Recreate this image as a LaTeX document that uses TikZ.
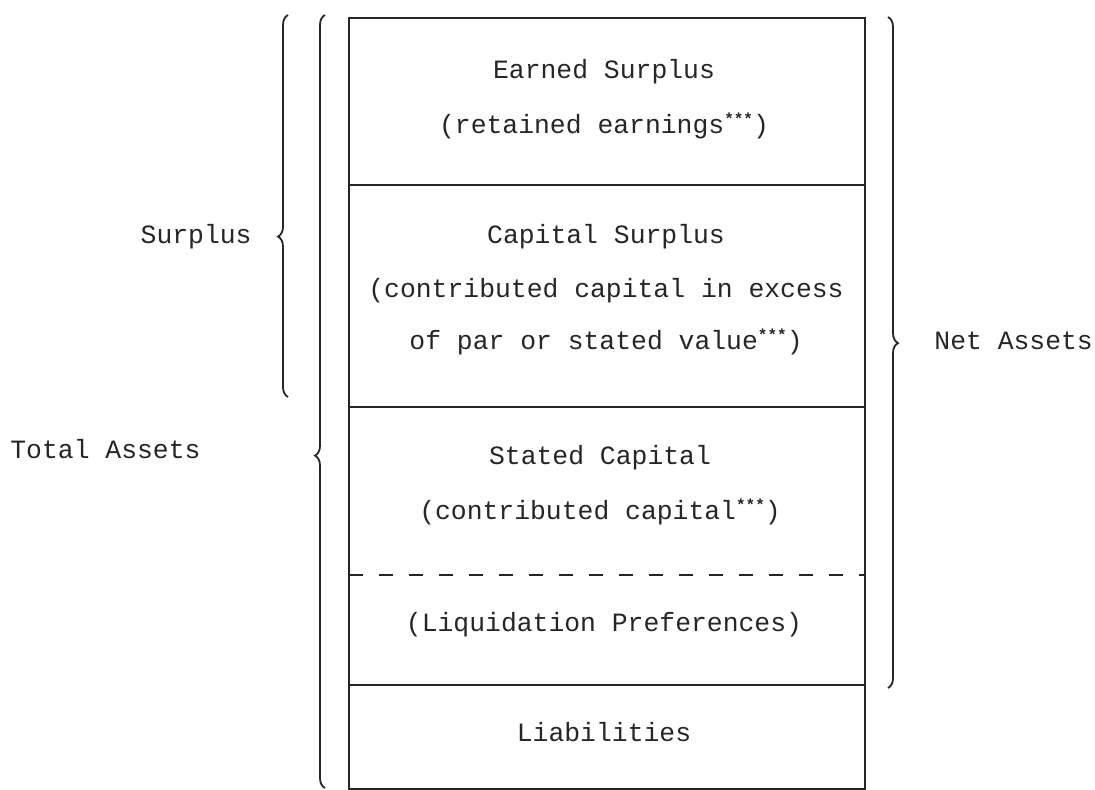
\documentclass[tikz,border=0pt]{standalone}
\usepackage{fontspec}
\setmainfont{Liberation Mono}
\usetikzlibrary{decorations.pathreplacing}
\newcommand{\tristar}{\raisebox{0.6ex}{\fontsize{8}{8}\selectfont\bfseries ***}}
\begin{document}
\begin{tikzpicture}[x=0.5pt,y=-0.5pt,
  ln/.style={line width=0.9pt,draw=black!85},
  txt/.style={font=\fontsize{13.2}{27}\selectfont, text=black!85, align=center, inner sep=0pt, text height=1.6ex, text depth=0.4ex},
  brc/.style={ln, decorate, decoration={brace, amplitude=5pt}},
]
\fill[white] (0,0) rectangle (1095,790);
\useasboundingbox (0,0) rectangle (1095,790);
\clip (0,0) rectangle (1095,790);
% corner coordinates of the stack
\coordinate (tl) at (349,18);
\coordinate (tr) at (865,18);
\coordinate (bl) at (349,789);
\coordinate (br) at (865,789);
\coordinate (d1l) at (349,185); \coordinate (d1r) at (865,185);
\coordinate (d2l) at (349,407); \coordinate (d2r) at (865,407);
\coordinate (d3l) at (349,575); \coordinate (d3r) at (865,575);
\coordinate (d4l) at (349,685); \coordinate (d4r) at (865,685);
\draw[ln] (tl) -- (tr) -- (br) -- (bl) -- cycle;
\draw[ln] (d1l) -- (d1r);
\draw[ln] (d2l) -- (d2r);
\draw[ln, dash pattern=on 7pt off 8pt] (d3l) -- (d3r);
\draw[ln] (d4l) -- (d4r);
% box texts
\node[txt] (es) at (604,72) {Earned Surplus};
\node[txt] (re) at (604,127) {(retained earnings\tristar)};
\node[txt] (cs) at (606,237) {Capital Surplus};
\node[txt] (cc) at (606,291) {(contributed capital in excess};
\node[txt] (pv) at (606,343) {of par or stated value\tristar)};
\node[txt] (sc) at (600,458) {Stated Capital};
\node[txt] (ccs) at (600,513) {(contributed capital\tristar)};
\node[txt] (lp) at (604,625) {(Liquidation Preferences)};
\node[txt] (li) at (604,735) {Liabilities};
% braces
\coordinate (sb) at (288,397); \coordinate (st) at (288,15);
\coordinate (tb) at (325,788); \coordinate (tt) at (325,15);
\coordinate (nt) at (888,17); \coordinate (nb) at (888,688);
\draw[brc, decoration={aspect=0.42}] (sb) -- (st);
\draw[brc, decoration={aspect=0.43}] (tb) -- (tt);
\draw[brc, decoration={aspect=0.486}] (nt) -- (nb);
% side labels
\node[txt, anchor=east] (sl) at (252,237) {Surplus};
\node[txt, anchor=west] (tal) at (10,452) {Total Assets};
\node[txt, anchor=west] (nal) at (934,343) {Net Assets};
\end{tikzpicture}
\end{document}
